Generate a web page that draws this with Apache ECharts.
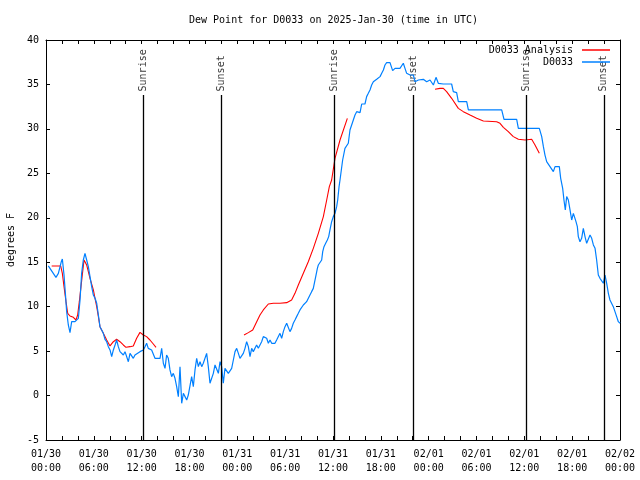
<!DOCTYPE html>
<html>
<head>
<meta charset="utf-8">
<script src="https://cdn.jsdelivr.net/npm/echarts@6/dist/echarts.min.js"></script>
<style>html,body{margin:0;padding:0;background:#fff;}#c{width:640px;height:480px;}</style>
</head>
<body>
<div id="c"></div>
<script>
// hours since 2025-01-30 00:00 UTC, dew point in degrees F
const analysis = [
 [0.71,14.58],[1.84,14.58],[2.05,13.75],[2.26,12.25],[2.51,10.56],[2.72,9.25],[3.01,8.95],[3.43,8.8],[3.76,8.5],[3.97,9.06],
 [4.18,10.56],[4.39,12.25],[4.6,13.94],[4.77,15.25],[5.1,14.69],[5.31,13.94],[5.52,13.19],[5.94,11.88],[6.15,10.94],[6.36,10.0],
 [6.57,8.88],[6.77,7.75],[7.19,7.0],[7.61,6.25],[8.03,5.58],[8.45,6.06],[8.86,6.33],[9.28,6.06],[9.7,5.69],[10.03,5.43],
 [10.54,5.5],[10.95,5.58],[11.37,6.44],[11.79,7.11],[12.21,6.81],[12.62,6.63],[13.04,6.25],[13.46,5.8],[13.8,5.43],
 [19.0,null],
 [24.84,6.81],[25.38,7.08],[25.93,7.38],[26.43,8.31],[26.84,9.06],[27.26,9.63],[27.89,10.3],[28.52,10.38],[29.35,10.38],[30.19,10.45],
 [30.81,10.75],[31.23,11.5],[31.65,12.44],[32.28,13.75],[32.9,15.06],[33.53,16.56],[34.16,18.25],[34.79,20.13],[35.21,22.0],[35.54,23.5],
 [35.83,24.25],[36.25,26.69],[36.88,28.75],[37.8,31.19],
 [43.0,null],
 [48.8,34.45],[49.42,34.56],[49.84,34.56],[50.25,34.19],[50.88,33.44],[51.72,32.31],[52.35,31.94],[53.19,31.56],[54.02,31.19],[54.86,30.89],
 [56.53,30.81],[56.95,30.63],[57.37,30.18],[57.99,29.69],[58.62,29.13],[59.25,28.83],[60.09,28.75],[60.92,28.83],[61.34,28.19],[61.88,27.25]
];
const d0033 = [
 [0.29,14.58],[1.25,13.3],[1.55,13.75],[1.76,13.94],[1.92,15.06],[2.05,15.36],[2.26,13.56],[2.43,11.5],[2.59,9.44],[2.8,7.94],
 [3.01,7.08],[3.22,8.31],[3.43,8.2],[3.64,8.31],[3.85,8.5],[4.06,8.69],[4.27,10.75],[4.47,13.75],[4.68,15.25],[4.89,16.0],
 [5.1,15.25],[5.31,14.5],[5.52,13.38],[5.73,12.25],[5.94,11.31],[6.15,10.94],[6.36,10.38],[6.57,9.06],[6.77,7.75],[6.98,7.68],
 [7.19,7.0],[7.4,6.33],[7.61,6.06],[7.82,5.5],[8.03,5.13],[8.24,4.38],[8.45,5.13],[8.66,5.69],[8.86,6.25],[9.07,5.5],
 [9.28,4.94],[9.49,4.94],[9.7,4.56],[9.91,4.94],[10.12,4.94],[10.33,3.81],[10.54,4.75],[10.75,4.56],[10.95,4.19],[11.16,4.56],
 [11.37,4.75],[11.79,4.94],[12.21,5.13],[12.42,5.5],[12.62,5.88],[12.83,5.31],[13.25,5.13],[13.67,4.19],[13.88,4.38],[14.3,4.19],
 [14.51,5.31],[14.72,3.63],[14.93,3.06],[15.13,4.56],[15.34,4.19],[15.55,2.88],[15.76,2.13],[15.97,2.5],[16.18,1.94],[16.39,1.0],
 [16.6,-0.12],[16.81,3.25],[17.02,-0.87],[17.23,0.25],[17.44,-0.12],[17.65,-0.5],[17.85,0.06],[18.06,0.25],[18.27,2.13],[18.48,1.0],
 [18.69,2.88],[18.9,4.19],[19.11,3.25],[19.32,3.81],[19.53,3.25],[19.73,3.63],[19.94,3.81],[20.15,4.75],[20.36,3.25],[20.57,1.38],
 [20.78,1.56],[20.99,2.5],[21.2,3.44],[21.41,3.25],[21.62,2.5],[21.83,3.81],[22.03,3.25],[22.24,1.38],[22.45,3.06],[22.66,3.25],
 [22.87,2.5],[23.08,2.69],[23.29,3.06],[23.5,4.0],[23.71,4.94],[23.92,5.31],[24.13,4.75],[24.33,4.19],[24.54,4.0],[24.75,4.75],
 [24.96,5.31],[25.17,6.06],[25.38,5.5],[25.59,4.38],[25.8,5.31],[26.0,4.94],[26.21,5.31],[26.42,5.69],[26.63,5.31],[26.84,5.13],
 [27.05,6.06],[27.26,6.63],[27.47,6.63],[27.68,6.44],[27.89,5.88],[28.1,6.25],[28.31,5.88],[28.52,6.06],[28.72,5.88],[28.93,6.25],
 [29.14,6.44],[29.35,7.0],[29.56,6.44],[29.77,7.19],[29.98,7.75],[30.19,8.13],[30.39,8.13],[30.6,7.19],[30.81,7.56],[31.02,8.13],
 [31.23,8.5],[31.44,8.88],[31.65,9.25],[31.86,9.63],[32.07,9.81],[32.28,10.19],[32.49,10.38],[32.69,10.56],[32.9,10.56],[33.11,11.31],
 [33.32,11.69],[33.53,12.06],[33.74,12.25],[33.87,13.56],[34.04,14.31],[34.16,14.69],[34.37,14.88],[34.58,15.25],[34.71,16.19],[34.87,16.75],
 [35.08,17.13],[35.29,17.5],[35.46,17.88],[35.62,18.63],[35.83,19.56],[36.04,20.13],[36.25,20.5],[36.46,21.25],[36.59,22.0],[36.76,23.5],
 [36.88,24.25],[37.21,26.5],[37.5,27.81],[37.71,27.63],[37.92,28.38],[38.13,29.88],[38.34,30.44],[38.55,31.0],[38.76,31.56],[38.97,31.94],
 [39.18,32.13],[39.39,31.83],[39.6,32.8],[40.01,32.8],[40.22,33.63],[40.43,34.0],[40.64,34.38],[40.85,34.94],[41.06,35.31],[41.27,35.13],
 [41.48,35.58],[41.69,35.69],[41.9,35.88],[42.11,36.25],[42.32,36.63],[42.52,37.19],[42.73,37.45],[43.15,37.45],[43.36,37.38],[43.48,36.55],
 [43.78,36.81],[44.4,36.81],[44.61,36.89],[44.82,37.38],[45.03,36.81],[45.24,36.25],[45.66,36.06],[46.08,36.06],[46.29,35.31],[46.71,35.5],
 [46.91,35.58],[47.33,35.58],[47.75,35.31],[48.17,35.5],[48.59,34.94],[48.92,35.8],[49.21,35.13],[49.42,34.94],[49.84,35.05],[50.88,35.05],
 [51.09,34.19],[51.51,34.08],[51.72,33.06],[52.77,33.06],[52.98,32.13],[57.16,32.13],[57.45,31.08],[59.04,31.08],[59.25,30.06],[61.88,30.06],
 [62.18,29.13],[62.39,28.0],[62.59,27.06],[62.8,26.31],[63.22,25.75],[63.64,25.19],[63.85,25.75],[64.06,25.94],[64.39,25.75],[64.56,24.44],
 [64.81,23.31],[64.97,22.0],[65.14,20.88],[65.31,22.38],[65.52,22.0],[65.73,20.88],[65.94,19.75],[66.15,20.5],[66.36,20.69],[66.48,19.56],
 [66.65,19.0],[66.77,17.88],[66.98,17.31],[67.19,17.69],[67.4,18.81],[67.61,17.88],[67.82,17.13],[68.03,17.31],[68.24,18.06],[68.45,17.69],
 [68.66,16.94],[68.87,16.56],[69.07,15.25],[69.28,13.56],[69.49,13.19],[69.7,13.38],[69.91,12.63],[70.12,13.56],[70.33,12.63],[70.54,11.5],
 [70.74,10.75],[71.16,10.0],[71.37,9.81],[71.58,8.88],[71.79,8.31],[72.0,8.13]
];
const eventHours = [12.17, 21.95, 36.13, 46.03, 60.2, 69.98];
const eventNames = ['Sunrise', 'Sunset', 'Sunrise', 'Sunset', 'Sunrise', 'Sunset'];
const xTickLabels = ['01/30\n00:00','01/30\n06:00','01/30\n12:00','01/30\n18:00','01/31\n00:00','01/31\n06:00','01/31\n12:00','01/31\n18:00','02/01\n00:00','02/01\n06:00','02/01\n12:00','02/01\n18:00','02/02\n00:00'];

const FONT = 'DejaVu Sans Mono';
const chart = echarts.init(document.getElementById('c'), null, {renderer: 'canvas'});
const axisCommon = {
  axisLine: {show: true, onZero: false, lineStyle: {color: '#000', width: 1}},
  axisTick: {show: true, inside: true, length: 4, lineStyle: {color: '#000'}},
  splitLine: {show: false}
};
const legendCommon = {
  orient: 'vertical', align: 'right', padding: 0, right: 30,
  icon: 'rect', itemWidth: 28, itemHeight: 1.5,
  textStyle: {fontFamily: FONT, fontSize: 10, color: '#000', padding: [0, 4, 0, 0]}
};
chart.setOption({
  animation: false,
  backgroundColor: '#fff',
  textStyle: {fontFamily: FONT, color: '#000'},
  title: {
    text: 'Dew Point for D0033 on 2025-Jan-30 (time in UTC)',
    left: 189, top: 15, padding: 0,
    textStyle: {fontFamily: FONT, fontSize: 10, fontWeight: 'normal', color: '#000'}
  },
  legend: [
    Object.assign({}, legendCommon, {data: ['D0033 Analysis'], top: 45}),
    Object.assign({}, legendCommon, {data: ['D0033'], top: 57})
  ],
  grid: {left: 46, right: 20, top: 40, bottom: 40, containLabel: false, outerBoundsMode: 'none'},
  xAxis: [
    Object.assign({}, axisCommon, {
      type: 'value', min: 0, max: 72, interval: 6, position: 'bottom',
      minorTick: {show: true, splitNumber: 3, length: 4, lineStyle: {color: '#000'}},
      axisLabel: {fontFamily: FONT, fontSize: 10, color: '#000', margin: 7, lineHeight: 14,
        formatter: v => xTickLabels[Math.round(v / 6)]}
    }),
    Object.assign({}, axisCommon, {
      type: 'value', min: 0, max: 72, interval: 6, position: 'top',
      minorTick: {show: true, splitNumber: 3, length: 4, lineStyle: {color: '#000'}},
      axisLabel: {show: false}
    })
  ],
  yAxis: [
    Object.assign({}, axisCommon, {
      type: 'value', min: -5, max: 40, interval: 5, position: 'left',
      name: 'degrees F', nameLocation: 'middle', nameGap: 30, nameRotate: 90,
      nameTextStyle: {fontFamily: FONT, fontSize: 10, color: '#000'},
      axisLabel: {fontFamily: FONT, fontSize: 10, color: '#000', margin: 7}
    }),
    Object.assign({}, axisCommon, {
      type: 'value', min: -5, max: 40, interval: 5, position: 'right',
      axisLabel: {show: false}
    })
  ],
  series: [
    {
      name: 'events', type: 'line', data: [], xAxisIndex: 0, yAxisIndex: 0, silent: true,
      markLine: {
        silent: true, symbol: ['none', 'none'], animation: false,
        label: {show: false},
        lineStyle: {color: '#000', width: 1.3, type: 'solid'},
        data: eventHours.map(h => [{coord: [h, -5]}, {coord: [h, 33.8]}])
      }
    },
    {
      name: 'eventLabels', type: 'scatter', symbolSize: 0, silent: true,
      data: eventHours.map((h, i) => ({value: [h, 34.1], name: eventNames[i]})),
      label: {show: true, formatter: p => p.name, position: 'inside', rotate: 90,
        align: 'left', verticalAlign: 'middle', offset: [1, 0],
        fontFamily: FONT, fontSize: 10, color: '#000'}
    },
    {
      name: 'D0033 Analysis', type: 'line', data: analysis, showSymbol: false, symbol: 'none',
      connectNulls: false, lineStyle: {color: '#ff0000', width: 1.1}, itemStyle: {color: '#ff0000'}
    },
    {
      name: 'D0033', type: 'line', data: d0033, showSymbol: false, symbol: 'none',
      lineStyle: {color: '#0080ff', width: 1.2}, itemStyle: {color: '#0080ff'}
    }
  ]
});
</script>
</body>
</html>
